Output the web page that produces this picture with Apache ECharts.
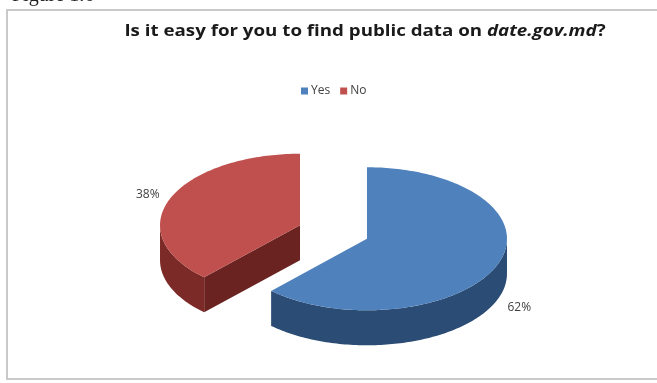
<!DOCTYPE html>
<html>
<head>
<meta charset="utf-8">
<script src="https://cdn.jsdelivr.net/npm/echarts@6/dist/echarts.min.js"></script>
<style>
  html, body { margin: 0; padding: 0; background: #ffffff; }
  #chart { width: 657px; height: 383px; }
</style>
</head>
<body>
<div id="chart"></div>
<script>
// Survey answers
const categories = ['Yes', 'No'];
const shares = [62, 38];
const shareLabels = ['62%', '38%'];

// Palette: top face, outer wall, cut wall
const topColors = ['#4F81BD', '#C0504D'];
const wallColors = ['#2B4C74', '#7B2A27'];
const cutColors = ['#25415f', '#6A2321'];

// 3D pie geometry (screen pixels)
const CX = 333.5, CY = 232;
const RX = 140, RY = 71.5;
const K = RY / RX;
const DEPTH = 35;
const EXPLODE = 36;
const LABEL_R = 1.17;

const total = shares.reduce((a, b) => a + b, 0);

function sliceRenderer(idx) {
  return function (params, api) {
    let before = 0;
    for (let i = 0; i < idx; i++) before += shares[i];
    const v = api.value(0);
    const a0 = before / total * Math.PI * 2;
    const a1 = (before + v) / total * Math.PI * 2;
    const mid = (a0 + a1) / 2;
    const ox = CX + Math.sin(mid) * EXPLODE;
    const oy = CY - Math.cos(mid) * EXPLODE * K;
    const pt = (t, r, dz) => [ox + Math.sin(t) * RX * r, oy - Math.cos(t) * RY * r + dz];
    const arc = (s, e, dz) => {
      const pts = [];
      const n = Math.max(4, Math.ceil(Math.abs(e - s) / 0.02));
      for (let i = 0; i <= n; i++) pts.push(pt(s + (e - s) * i / n, 1, dz));
      return pts;
    };
    const children = [];

    // outer wall, visible on the front half only
    const s = Math.max(a0, Math.PI / 2), e = Math.min(a1, Math.PI * 1.5);
    if (e > s) {
      const pts = arc(s, e, 0).concat(arc(s, e, DEPTH).reverse());
      children.push({ type: 'polygon', shape: { points: pts }, style: { fill: wallColors[idx] } });
    }

    // flat cut walls facing the viewer
    const edges = [[a0, a0 - Math.PI / 2], [a1, a1 + Math.PI / 2]];
    edges.forEach(([a, n]) => {
      if (-Math.cos(n) > 1e-6) {
        const c = [ox, oy];
        const p = pt(a, 1, 0);
        children.push({
          type: 'polygon',
          shape: { points: [c, p, [p[0], p[1] + DEPTH], [c[0], c[1] + DEPTH]] },
          style: { fill: cutColors[idx] }
        });
      }
    });

    // top face
    children.push({
      type: 'polygon',
      shape: { points: [[ox, oy]].concat(arc(a0, a1, 0)) },
      style: { fill: topColors[idx] }
    });

    // value label
    const lp = pt(mid, LABEL_R, -Math.cos(mid) > 0 ? DEPTH + 3 : 0);
    children.push({
      type: 'text',
      x: lp[0], y: lp[1],
      style: {
        text: shareLabels[idx],
        fill: '#404040',
        font: '12px "Open Sans", Lato, sans-serif',
        align: 'center',
        verticalAlign: 'middle'
      }
    });

    return { type: 'group', children: children };
  };
}

const chart = echarts.init(document.getElementById('chart'), null, { renderer: 'canvas' });

chart.setOption({
  animation: false,
  backgroundColor: '#ffffff',
  legend: {
    data: categories,
    left: 296,
    top: 80,
    icon: 'rect',
    itemWidth: 7,
    itemHeight: 7,
    itemGap: 10,
    textStyle: { fontFamily: 'Open Sans', fontSize: 12, color: '#404040', padding: [0, 0, 0, -2] }
  },
  graphic: [
    {
      type: 'rect',
      shape: { x: 7, y: 10, width: 700, height: 369 },
      style: { fill: 'none', stroke: '#c9c9c9', lineWidth: 2 },
      silent: true
    },
    {
      type: 'text',
      x: 12, y: -14,
      style: { text: 'Figure 1.6', font: '20px "Liberation Serif", serif', fill: '#222' },
      silent: true
    },
    {
      // chart title, set slightly wide
      type: 'text',
      x: 365, y: 31,
      scaleX: 1.17,
      silent: true,
      style: {
        text: '{a|Is it easy for you to find public data on }{b|date.gov.md}{a|?}',
        align: 'center',
        verticalAlign: 'middle',
        rich: {
          a: { fontFamily: 'Open Sans', fontWeight: 'bold', fontSize: 16, fill: '#1a1a1a', color: '#1a1a1a' },
          b: { fontFamily: 'Open Sans', fontWeight: 'bold', fontStyle: 'italic', fontSize: 16, fill: '#1a1a1a', color: '#1a1a1a' }
        }
      }
    }
  ],
  series: categories.map((name, i) => ({
    type: 'custom',
    name: name,
    coordinateSystem: 'none',
    itemStyle: { color: topColors[i] },
    renderItem: sliceRenderer(i),
    data: [[shares[i]]]
  }))
});
</script>
</body>
</html>
